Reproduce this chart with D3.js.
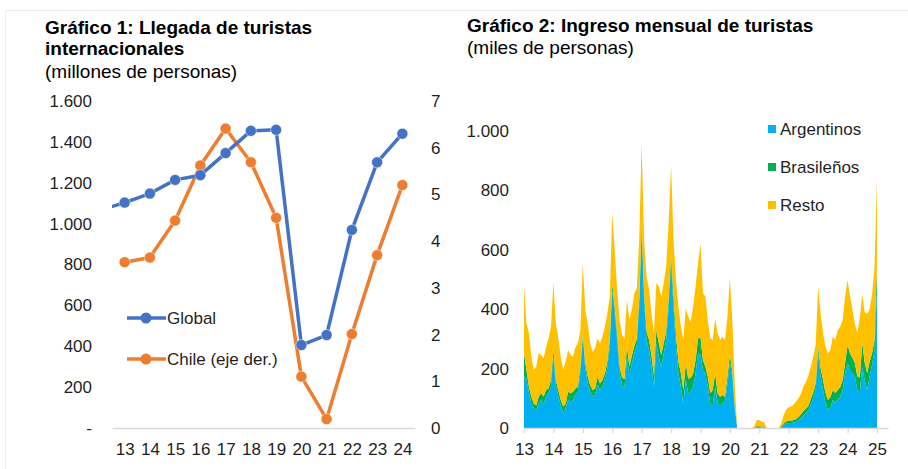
<!DOCTYPE html>
<html>
<head>
<meta charset="utf-8">
<script src="https://cdn.jsdelivr.net/npm/d3@7"></script>
<style>
  body { margin: 0; background: #fff; }
  svg { display: block; font-family: "Liberation Sans", Arial, sans-serif; }
</style>
</head>
<body>
<svg width="908" height="469"></svg>
<script>
//Gráfico 1: llegada de turistas internacionales (datos anuales)
var anios = ["13", "14", "15", "16", "17", "18", "19", "20", "21", "22", "23", "24"];
//Global en millones (eje izquierdo)
var globalMill = [1103, 1147, 1214, 1237, 1345, 1454, 1459, 406, 455, 969, 1300, 1440];
//el punto de 2012 queda fuera del área, solo se ve el trazo que entra
var globalPrevio = 1065;
//Chile en millones (eje derecho)
var chileMill = [3.55, 3.65, 4.44, 5.62, 6.41, 5.69, 4.50, 1.10, 0.19, 2.01, 3.70, 5.20];
var ticksIzq = [0, 200, 400, 600, 800, 1000, 1200, 1400, 1600];
var ticksDer = [0, 1, 2, 3, 4, 5, 6, 7];

//Gráfico 2: ingreso mensual (miles), desde ene-2013 hasta ene-2025
var etiquetasAnio = ["13", "14", "15", "16", "17", "18", "19", "20", "21", "22", "23", "24", "25"];
var argentinos = [
  173, 165, 120, 82, 67, 61, 82, 94, 82, 106, 117, 139,
  240, 145, 106, 77, 50, 67, 94, 88, 94, 111, 122, 189,
  302, 201, 150, 122, 106, 111, 145, 128, 139, 167, 201, 279,
  465, 386, 296, 184, 145, 134, 240, 178, 218, 251, 274, 409,
  667, 430, 296, 263, 210, 139, 285, 240, 206, 251, 296, 409,
  555, 409, 274, 184, 139, 83, 162, 117, 123, 139, 184, 251,
  245, 195, 184, 139, 83, 77, 139, 83, 77, 83, 89, 150,
  223, 170, 65, 0, 0, 0, 0, 0, 0, 0, 1, 3,
  3, 2, 2, 0, 0, 0, 0, 0, 0, 4, 10, 15,
  17, 17, 19, 20, 27, 34, 42, 50, 60, 80, 100, 130,
  257, 173, 128, 84, 61, 67, 94, 84, 94, 104, 128, 185,
  219, 195, 185, 173, 128, 120, 206, 162, 128, 173, 212, 263,
  470];
var brasilenos = [
  80, 30, 20, 24, 15, 16, 24, 23, 24, 22, 16, 23,
  23, 17, 22, 17, 22, 15, 28, 29, 28, 22, 17, 17,
  17, 17, 23, 23, 22, 22, 28, 22, 23, 17, 22, 17,
  20, 20, 20, 25, 25, 30, 35, 30, 25, 25, 25, 20,
  20, 25, 30, 35, 35, 40, 45, 45, 40, 35, 30, 25,
  30, 35, 40, 40, 45, 45, 55, 50, 45, 45, 45, 50,
  60, 34, 22, 34, 34, 51, 45, 34, 28, 28, 16, 23,
  23, 20, 10, 0, 0, 0, 0, 0, 0, 0, 1, 3,
  3, 2, 2, 0, 0, 0, 0, 0, 0, 2, 5, 7,
  8, 8, 8, 10, 10, 12, 15, 15, 15, 18, 20, 20,
  17, 29, 34, 34, 33, 37, 34, 34, 34, 34, 34, 34,
  60, 57, 51, 46, 45, 50, 80, 57, 57, 50, 40, 33,
  80];
var resto = [
  228, 157, 180, 134, 114, 130, 146, 129, 129, 145, 168, 179,
  225, 190, 173, 146, 124, 142, 141, 129, 118, 140, 146, 124,
  235, 179, 179, 140, 129, 135, 128, 135, 145, 157, 163, 146,
  239, 193, 149, 155, 143, 138, 156, 156, 154, 178, 171, 204,
  271, 178, 184, 172, 141, 140, 158, 192, 197, 202, 218, 255,
  300, 189, 184, 185, 157, 168, 186, 208, 190, 225, 248, 253,
  317, 225, 237, 191, 185, 168, 185, 202, 191, 196, 191, 202,
  259, 170, 70, 0, 0, 0, 0, 0, 0, 0, 5, 22,
  20, 18, 15, 0, 0, 0, 0, 0, 0, 12, 30, 40,
  45, 47, 51, 60, 63, 69, 83, 90, 100, 107, 120, 130,
  202, 184, 157, 156, 157, 159, 180, 178, 202, 203, 202, 224,
  219, 193, 164, 131, 147, 200, 164, 171, 200, 177, 198, 244,
  290];
var series2 = ["Argentinos", "Brasileños", "Resto"];

//colores estilo Excel
var azul = "#4472C4", naranjo = "#ED7D31";
var colores2 = ["#00B0F0", "#00B050", "#FFC000"];
var grisEje = "#d9d9d9", colorTexto = "#1f1f1f";
var tamTitulo = 19, tamTexto = 17;

//formato con punto de miles
var es = d3.formatLocale({ decimal: ",", thousands: ".", grouping: [3], currency: ["$", ""] });
var fmtMiles = es.format(",");

var svg = d3.select("svg");

//marco gris muy suave de la imagen
svg.append("path")
  .attr("d", "M5.5,469V10.5H908")
  .attr("fill", "none")
  .attr("stroke", "#ececec");

/* ---------------- Gráfico 1 ---------------- */
var g1 = svg.append("g");

g1.append("text").attr("x", 45).attr("y", 34)
  .attr("font-size", tamTitulo).attr("font-weight", "bold").attr("fill", "#000")
  .text("Gráfico 1: Llegada de turistas");
g1.append("text").attr("x", 45).attr("y", 55)
  .attr("font-size", tamTitulo).attr("font-weight", "bold").attr("fill", "#000")
  .text("internacionales");
g1.append("text").attr("x", 45).attr("y", 78)
  .attr("font-size", tamTitulo).attr("fill", "#000")
  .text("(millones de personas)");

var x1 = d3.scalePoint().domain(anios).range([112, 415]).padding(0.5);
var yIzq = d3.scaleLinear().domain([0, 1600]).range([428, 101]);
var yDer = d3.scaleLinear().domain([0, 7]).range([428, 101]);

//eje izquierdo, el cero se muestra como "-"
var ejeIzq = g1.append("g")
  .attr("transform", "translate(92,0)")
  .call(d3.axisLeft(yIzq).tickValues(ticksIzq).tickSize(0).tickPadding(0)
    .tickFormat(function (d) { return d === 0 ? "-" : fmtMiles(d); }));
var ejeDer = g1.append("g")
  .attr("transform", "translate(431,0)")
  .call(d3.axisRight(yDer).tickValues(ticksDer).tickSize(0).tickPadding(0)
    .tickFormat(d3.format("d")));
var ejeX1 = g1.append("g")
  .attr("transform", "translate(0,428)")
  .call(d3.axisBottom(x1).tickSize(0).tickSizeOuter(0).tickPadding(15));

[ejeIzq, ejeDer].forEach(function (e) { e.select(".domain").remove(); });
ejeX1.select(".domain").attr("stroke", grisEje).attr("stroke-width", 1.3);
[ejeIzq, ejeDer, ejeX1].forEach(function (e) {
  e.selectAll("text").attr("font-size", tamTexto).attr("fill", colorTexto)
    .attr("font-family", "Liberation Sans, Arial, sans-serif");
});

//recorte del área del gráfico (para el tramo que viene de 2012)
svg.append("clipPath").attr("id", "recorte1")
  .append("rect").attr("x", x1.range()[0]).attr("y", 80)
  .attr("width", x1.range()[1] - x1.range()[0] + 20).attr("height", 360);

var ptsGlobal = anios.map(function (a, i) { return { x: x1(a), y: yIzq(globalMill[i]) }; });
ptsGlobal.unshift({ x: x1(anios[0]) - x1.step(), y: yIzq(globalPrevio) });
var ptsChile = anios.map(function (a, i) { return { x: x1(a), y: yDer(chileMill[i]) }; });

var linea = d3.line().x(function (d) { return d.x; }).y(function (d) { return d.y; });

function dibujaSerie(pts, color) {
  g1.append("path").datum(pts)
    .attr("clip-path", "url(#recorte1)")
    .attr("d", linea)
    .attr("fill", "none")
    .attr("stroke", color)
    .attr("stroke-width", 3.5)
    .attr("stroke-linejoin", "round");
  g1.selectAll(null)
    .data(pts.filter(function (p) { return p.x >= x1.range()[0]; }))
    .enter().append("circle")
    .attr("cx", function (d) { return d.x; })
    .attr("cy", function (d) { return d.y; })
    .attr("r", 5.5)
    .attr("fill", color)
    .attr("stroke", "#fff")
    .attr("stroke-opacity", 0.6)
    .attr("stroke-width", 0.8);
}
//primero Chile y luego Global encima
dibujaSerie(ptsChile, naranjo);
dibujaSerie(ptsGlobal, azul);

//leyenda gráfico 1
var leyenda1 = [{ nombre: "Global", color: azul, y: 318 }, { nombre: "Chile (eje der.)", color: naranjo, y: 359 }];
leyenda1.forEach(function (l) {
  g1.append("line").attr("x1", 127).attr("x2", 166).attr("y1", l.y).attr("y2", l.y)
    .attr("stroke", l.color).attr("stroke-width", 3.5);
  g1.append("circle").attr("cx", 146).attr("cy", l.y).attr("r", 5.5).attr("fill", l.color);
  g1.append("text").attr("x", 167).attr("y", l.y).attr("dy", "0.35em")
    .attr("font-size", tamTexto).attr("fill", colorTexto).text(l.nombre);
});

/* ---------------- Gráfico 2 ---------------- */
var g2 = svg.append("g");

g2.append("text").attr("x", 467).attr("y", 32)
  .attr("font-size", tamTitulo).attr("font-weight", "bold").attr("fill", "#000")
  .text("Gráfico 2: Ingreso mensual de turistas");
g2.append("text").attr("x", 467).attr("y", 54)
  .attr("font-size", tamTitulo).attr("fill", "#000")
  .text("(miles de personas)");

//tabla para el stack
var tabla = argentinos.map(function (v, i) {
  return { mes: i, "Argentinos": v, "Brasileños": brasilenos[i], "Resto": resto[i] };
});
var pila = d3.stack().keys(series2)(tabla);

//eje de meses: índice 0 = ene-2013
var x2 = d3.scaleLinear().domain([0, 148.5]).range([524, 888]);
var y2 = d3.scaleLinear().domain([0, 1000]).range([428, 131]);

var area = d3.area()
  .x(function (d) { return x2(d.data.mes); })
  .y0(function (d) { return y2(d[0]); })
  .y1(function (d) { return y2(d[1]); });

g2.selectAll(".capa")
  .data(pila)
  .enter().append("path")
  .attr("class", "capa")
  .attr("d", area)
  .attr("fill", function (d, i) { return colores2[i]; });

var ejeY2 = g2.append("g")
  .attr("transform", "translate(509,0)")
  .call(d3.axisLeft(y2).tickValues([0, 200, 400, 600, 800, 1000]).tickSize(0).tickPadding(0)
    .tickFormat(fmtMiles));
ejeY2.select(".domain").remove();

var ticksMes = etiquetasAnio.map(function (e, i) { return i * 12; });
var ejeX2 = g2.append("g")
  .attr("transform", "translate(0,428)")
  .call(d3.axisBottom(x2).tickValues(ticksMes).tickSize(5).tickSizeOuter(0).tickPadding(10)
    .tickFormat(function (d, i) { return etiquetasAnio[i]; }));
ejeX2.select(".domain").attr("stroke", grisEje).attr("stroke-width", 1.3);
ejeX2.selectAll(".tick line").attr("stroke", grisEje).attr("stroke-width", 1.3);
[ejeY2, ejeX2].forEach(function (e) {
  e.selectAll("text").attr("font-size", tamTexto).attr("fill", colorTexto)
    .attr("font-family", "Liberation Sans, Arial, sans-serif");
});

//leyenda gráfico 2
series2.forEach(function (s, i) {
  var yl = 129 + i * 38;
  g2.append("rect").attr("x", 768).attr("y", yl - 4).attr("width", 8).attr("height", 8)
    .attr("fill", colores2[i]);
  g2.append("text").attr("x", 780).attr("y", yl).attr("dy", "0.35em")
    .attr("font-size", tamTexto).attr("fill", colorTexto).text(s);
});
</script>
</body>
</html>
